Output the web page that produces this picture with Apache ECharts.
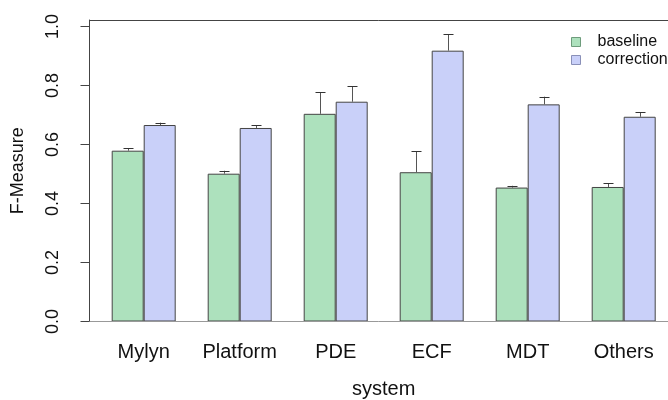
<!DOCTYPE html>
<html>
<head>
<meta charset="utf-8">
<script src="https://cdn.jsdelivr.net/npm/echarts@6/dist/echarts.min.js"></script>
<style>html,body{margin:0;padding:0;background:#fff;}#c{width:668px;height:400px;}</style>
</head>
<body>
<div id="c"></div>
<script>
const categories = ['Mylyn', 'Platform', 'PDE', 'ECF', 'MDT', 'Others'];
const baseline = [0.579, 0.501, 0.704, 0.506, 0.454, 0.456];
const correction = [0.666, 0.656, 0.745, 0.918, 0.736, 0.694];
const baselineUpper = [0.588, 0.511, 0.777, 0.577, 0.460, 0.468];
const correctionUpper = [0.674, 0.665, 0.797, 0.974, 0.762, 0.709];
const yTicks = [0, 0.2, 0.4, 0.6, 0.8, 1.0];

const FONT = 'Liberation Sans, Arial, sans-serif';
const chart = echarts.init(document.getElementById('c'), null, {renderer: 'canvas'});

function errItem(sign) {
  return function (params, api) {
    const i = api.value(0);
    const top = api.coord([i, api.value(1)]);
    const bot = api.coord([i, api.value(2)]);
    const band = api.size([1, 0])[0];
    const x = Math.round(top[0] + sign * band / 6) + 0.5;
    const cap = 5;
    return {
      type: 'group',
      children: [
        {type: 'line', shape: {x1: x, y1: bot[1], x2: x, y2: top[1]}, style: {stroke: '#555', lineWidth: 1}},
        {type: 'line', shape: {x1: x - cap, y1: Math.round(top[1]) + 0.5, x2: x + cap, y2: Math.round(top[1]) + 0.5}, style: {stroke: '#333', lineWidth: 1}}
      ]
    };
  };
}

chart.setOption({
  animation: false,
  textStyle: {fontFamily: FONT},
  grid: {left: 95.7, top: 20, width: 576, height: 301.5, containLabel: false, outerBoundsMode: 'none'},
  legend: {
    orient: 'vertical', left: 571, top: 33, padding: 0, itemWidth: 9, itemHeight: 9, itemGap: 0,
    icon: 'rect',
    textStyle: {fontFamily: FONT, fontSize: 16, color: '#111', padding: [0, 0, 0, 12], lineHeight: 18},
    data: [
      {name: 'baseline', itemStyle: {color: '#ADE1BD', borderColor: '#6E9C7C', borderWidth: 1}},
      {name: 'correction', itemStyle: {color: '#C9D0F9', borderColor: '#8A90B8', borderWidth: 1}}
    ]
  },
  xAxis: {
    type: 'category', data: categories,
    axisLine: {show: false}, axisTick: {show: false},
    axisLabel: {fontFamily: FONT, fontSize: 20, color: '#111', margin: 21, interval: 0, hideOverlap: false},
    name: 'system', nameLocation: 'middle', nameGap: 58,
    nameTextStyle: {fontFamily: FONT, fontSize: 20, color: '#111'}
  },
  yAxis: {
    type: 'value', min: 0, max: 1.022, offset: 6.2,
    splitLine: {show: false},
    axisLine: {show: true, lineStyle: {color: '#444'}},
    axisTick: {show: true, length: 9, customValues: yTicks, lineStyle: {color: '#444'}},
    axisLabel: {fontFamily: FONT, fontSize: 18, color: '#111', rotate: 90, margin: 27,
      customValues: yTicks, formatter: v => v.toFixed(1)},
    name: 'F-Measure', nameLocation: 'middle', nameGap: 62,
    nameTextStyle: {fontFamily: FONT, fontSize: 18, color: '#111'}
  },
  graphic: [
    {type: 'line', shape: {x1: 89.5, y1: 20.5, x2: 668, y2: 20.5}, style: {stroke: '#444', lineWidth: 1}, z: 100},
    {type: 'line', shape: {x1: 89.5, y1: 321.5, x2: 668, y2: 321.5}, style: {stroke: '#999', lineWidth: 1}, z: 100}
  ],
  series: [
    {name: 'baseline', type: 'bar', data: baseline, barWidth: 32, barGap: '0%',
      itemStyle: {color: '#ADE1BD', borderColor: '#444', borderWidth: 1}},
    {name: 'correction', type: 'bar', data: correction, barWidth: 32, barGap: '0%',
      itemStyle: {color: '#C9D0F9', borderColor: '#444', borderWidth: 1}},
    {type: 'custom', renderItem: errItem(-1), z: 10,
      encode: {x: 0, y: [1, 2]},
      data: categories.map((c, i) => [i, baselineUpper[i], baseline[i]])},
    {type: 'custom', renderItem: errItem(1), z: 10,
      encode: {x: 0, y: [1, 2]},
      data: categories.map((c, i) => [i, correctionUpper[i], correction[i]])}
  ]
});
</script>
</body>
</html>
